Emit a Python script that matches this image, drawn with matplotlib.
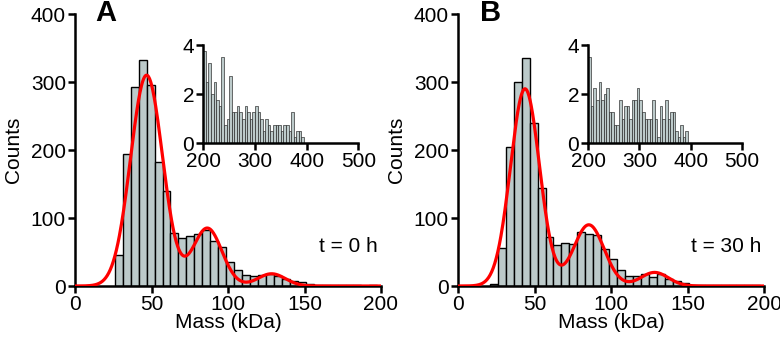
import numpy as np
import matplotlib
matplotlib.use("Agg")
import matplotlib.pyplot as plt

plt.rcParams['font.family'] = ['Liberation Sans', 'DejaVu Sans']

# ---------------- data ----------------
bin_width = 5.2
a_first_edge = 26.0
a_counts = [45, 194, 292, 332, 296, 182, 139, 78, 70, 73, 77, 82, 66, 58, 36, 24,
            16, 14, 16, 17, 15, 11, 8, 6, 3, 2, 1, 2, 1, 1, 1, 0, 1]
b_first_edge = 20.8
b_counts = [3, 56, 205, 300, 335, 240, 144, 72, 60, 63, 62, 80, 77, 75, 55, 39, 23,
            15, 15, 17, 13, 17, 10, 7, 4, 2, 2, 1, 1, 1, 1, 2, 1, 2]

# Gaussian-mixture fit parameters (amplitude, centre, sigma)
a_fit_amp = [310, 85, 18]
a_fit_mu = [46.8, 86.5, 128.5]
a_fit_sig = [10.5, 9.5, 9.0]
b_fit_amp = [290, 90, 20]
b_fit_mu = [43.8, 85.5, 128.5]
b_fit_sig = [9.5, 10.0, 9.0]

inset_width = 5
inset_first = 200
a_inset = [3.75, 2.5, 3.25, 2.0, 2.5, 1.75, 1.5, 3.5, 0.75, 1.0, 2.75, 1.25, 1.25,
           1.5, 1.25, 1.0, 1.5, 1.25, 1.0, 1.25, 1.5, 1.25, 1.0, 0.5, 1.0, 0.75,
           0.5, 0.75, 0.75, 0.75, 0.5, 0.75, 0.75, 0.5, 1.25, 0.25, 0.5, 0.5, 0.25]
b_inset = [3.5, 1.5, 2.25, 1.75, 2.5, 1.75, 2.0, 2.25, 1.25, 1.25, 0.75, 0.75, 1.75,
           1.0, 1.5, 1.5, 1.0, 1.75, 1.75, 2.25, 1.75, 1.25, 1.0, 1.0, 1.0, 1.75,
           1.0, 0.25, 1.5, 1.0, 1.75, 1.0, 1.25, 1.25, 0.5, 0.25, 0.75, 0.25, 0.5]

panel_letters = ["A", "B"]
time_labels = ["t = 0 h", "t = 30 h"]

# ---------------- style ----------------
FILL = '#bccaca'
FS = 15
W, H = 780, 338

fig = plt.figure(figsize=(W / 100, H / 100), dpi=100)


def px_axes(x0, y_top, x1, y_bot):
    return fig.add_axes([x0 / W, (H - y_bot) / H, (x1 - x0) / W, (y_bot - y_top) / H])


def style(ax):
    for s in ('top', 'right'):
        ax.spines[s].set_visible(False)
    for s in ('left', 'bottom'):
        ax.spines[s].set_linewidth(1.8)
    ax.tick_params(direction='out', length=5, width=1.8, labelsize=FS, pad=1.5)


def gauss_sum(x, amps, mus, sigs):
    y = np.zeros_like(x)
    for a, m, s in zip(amps, mus, sigs):
        y += a * np.exp(-0.5 * ((x - m) / s) ** 2)
    return y


panels = [
    dict(x0=75, counts=a_counts, first=a_first_edge, amp=a_fit_amp, mu=a_fit_mu,
         sig=a_fit_sig, inset=a_inset, ix0=203.3, ix1=358.3, letter_x=20),
    dict(x0=458, counts=b_counts, first=b_first_edge, amp=b_fit_amp, mu=b_fit_mu,
         sig=b_fit_sig, inset=b_inset, ix0=588.3, ix1=741.7, letter_x=21),
]

for i, p in enumerate(panels):
    ax = px_axes(p['x0'], 14, p['x0'] + 306, 286)
    lefts = p['first'] + bin_width * np.arange(len(p['counts']))
    ax.bar(lefts, p['counts'], width=bin_width, align='edge', color=FILL,
           edgecolor='black', linewidth=1.0, zorder=2)
    xs = np.linspace(0, 200, 600)
    ax.plot(xs, gauss_sum(xs, p['amp'], p['mu'], p['sig']), color='#ff0000',
            lw=2.3, zorder=3, solid_capstyle='round')
    ax.set_xlim(0, 200)
    ax.set_ylim(0, 400)
    ax.set_xticks([0, 50, 100, 150, 200])
    ax.set_yticks([0, 100, 200, 300, 400])
    style(ax)
    ax.set_xlabel('Mass (kDa)', fontsize=FS, labelpad=-1)
    ax.set_ylabel('Counts', fontsize=FS, labelpad=6)
    ax.text(p['letter_x'], 402, panel_letters[i], fontsize=21, fontweight='bold',
            ha='center', va='center', clip_on=False)
    ax.text(198, 58, time_labels[i], fontsize=FS, ha='right', va='center')

    iax = px_axes(p['ix0'], 45, p['ix1'], 143)
    ilefts = inset_first + inset_width * np.arange(len(p['inset']))
    iax.bar(ilefts, p['inset'], width=inset_width, align='edge', color=FILL,
            edgecolor='#222222', linewidth=0.45, zorder=2)
    iax.set_xlim(200, 500)
    iax.set_ylim(0, 4)
    iax.set_xticks([200, 300, 400, 500])
    iax.set_yticks([0, 2, 4])
    iax.patch.set_alpha(0)
    style(iax)

fig.savefig('out.png', dpi=100)
